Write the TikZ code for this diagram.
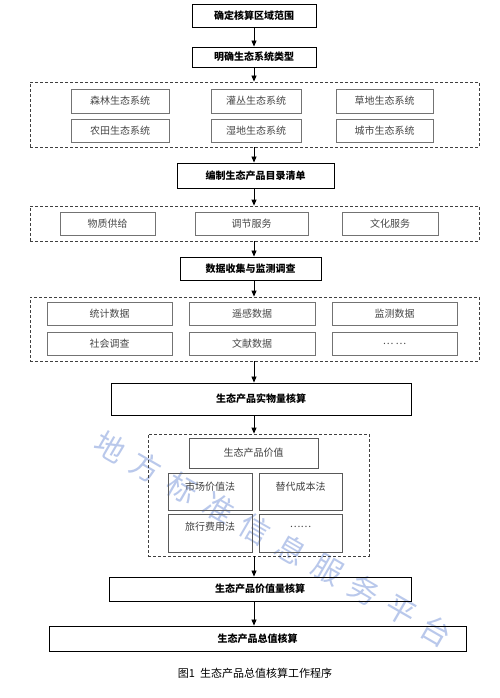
\documentclass[tikz,border=0pt]{standalone}
\usepackage{fontspec}
\setmainfont{Noto Sans CJK SC}
\usetikzlibrary{arrows.meta}
\definecolor{wm}{RGB}{185,200,235}
\tikzset{
  mainbox/.style={draw=black, line width=0.9pt, inner sep=0pt, font=\fontsize{10}{12}\selectfont\bfseries, text=black},
  grpbox/.style={draw=black!75, dashed, dash pattern=on 3pt off 2pt, line width=0.8pt, inner sep=0pt},
  subbox/.style={draw=black!55, line width=0.7pt, inner sep=0pt, font=\fontsize{10}{12}\selectfont, text=black!72},
  vbox/.style={draw=black!65, line width=0.7pt, inner sep=0pt},
  vtext/.style={font=\fontsize{10}{12}\selectfont, text=black!75, inner sep=0pt},
  arr/.style={line width=0.8pt, -{Triangle[length=6pt,width=5pt]}},
  wmtext/.style={font=\fontsize{30}{30}\selectfont, text=wm, rotate=-30, inner sep=0pt}
}
\begin{document}
\begin{tikzpicture}[x=1pt,y=-1pt]
\useasboundingbox[fill=white] (0,0) rectangle (500,698);
% watermark
\foreach \c [count=\i from 0] in {地,方,标,准,信,息,服,务,平,台}{
  \node[wmtext] (wm\i) at ({110+36.3*\i},{447+20.5*\i}) {\c};
}
\coordinate (ax) at (254,0);
% main boxes
\node[mainbox, minimum width=124pt, minimum height=23pt] (b1) at (254,15.5) {确定核算区域范围};
\node[mainbox, minimum width=124pt, minimum height=20pt] (b2) at (254,57) {明确生态系统类型};
% group 1
\node[grpbox, minimum width=449pt, minimum height=65pt] (g1) at (254.5,114.5) {};
\node[subbox, minimum width=98pt, minimum height=24pt] (e1) at (120,101) {森林生态系统};
\node[subbox, minimum width=90pt, minimum height=24pt] (e2) at (256,101) {灌丛生态系统};
\node[subbox, minimum width=97pt, minimum height=24pt] (e3) at (384.5,101) {草地生态系统};
\node[subbox, minimum width=98pt, minimum height=23pt] (e4) at (120,130.5) {农田生态系统};
\node[subbox, minimum width=90pt, minimum height=23pt] (e5) at (256,130.5) {湿地生态系统};
\node[subbox, minimum width=97pt, minimum height=23pt] (e6) at (384.5,130.5) {城市生态系统};
\node[mainbox, minimum width=157pt, minimum height=25pt] (b3) at (255.5,175.5) {编制生态产品目录清单};
% group 2
\node[grpbox, minimum width=449pt, minimum height=35pt] (g2) at (254.5,223.5) {};
\node[subbox, minimum width=95pt, minimum height=23pt] (p1) at (107.5,223.5) {物质供给};
\node[subbox, minimum width=113pt, minimum height=23pt] (p2) at (251.5,223.5) {调节服务};
\node[subbox, minimum width=96pt, minimum height=23pt] (p3) at (390,223.5) {文化服务};
\node[mainbox, minimum width=141pt, minimum height=23pt] (b4) at (250.5,268.5) {数据收集与监测调查};
% group 3
\node[grpbox, minimum width=449pt, minimum height=64pt] (g3) at (254.5,329) {};
\node[subbox, minimum width=125pt, minimum height=23pt] (d1) at (109.5,313.5) {统计数据};
\node[subbox, minimum width=126pt, minimum height=23pt] (d2) at (252,313.5) {遥感数据};
\node[subbox, minimum width=125pt, minimum height=23pt] (d3) at (394.5,313.5) {监测数据};
\node[subbox, minimum width=125pt, minimum height=23pt] (d4) at (109.5,343.5) {社会调查};
\node[subbox, minimum width=126pt, minimum height=23pt] (d5) at (252,343.5) {文献数据};
\node[subbox, minimum width=125pt, minimum height=23pt] (d6) at (394.5,343.5) {… …};
\node[mainbox, minimum width=300pt, minimum height=32pt] (b5) at (261,399) {生态产品实物量核算};
% group 4
\node[grpbox, minimum width=221pt, minimum height=122pt] (g4) at (258.5,495) {};
\node[vbox, minimum width=129pt, minimum height=30pt] (v0) at (253.5,453) {};
\node[vtext] (t0) at (v0.center) {生态产品价值};
\node[vbox, minimum width=84pt, minimum height=37pt] (v1) at (210,491.5) {};
\node[vbox, minimum width=83pt, minimum height=37pt] (v2) at (300.5,491.5) {};
\node[vbox, minimum width=84pt, minimum height=38pt] (v3) at (210,533) {};
\node[vbox, minimum width=83pt, minimum height=38pt] (v4) at (300.5,533) {};
\node[vtext] (t1) at ([yshift=5pt]v1.center) {市场价值法};
\node[vtext] (t2) at ([yshift=5pt]v2.center) {替代成本法};
\node[vtext] (t3) at ([yshift=6pt]v3.center) {旅行费用法};
\node[vtext] (t4) at ([yshift=6pt]v4.center) {……};
\node[mainbox, minimum width=302pt, minimum height=24pt] (b6) at (260,589) {生态产品价值量核算};
\node[mainbox, minimum width=417pt, minimum height=25pt] (b7) at (257.5,638.5) {生态产品总值核算};
\node[font=\fontsize{11}{13}\selectfont, inner sep=0pt] (cap) at (255,673) {图1\ \ 生态产品总值核算工作程序};
% arrows
\draw[arr] (b1.south -| ax) -- (b2.north -| ax);
\draw[arr] (b2.south -| ax) -- (g1.north -| ax);
\draw[arr] (g1.south -| ax) -- (b3.north -| ax);
\draw[arr] (b3.south -| ax) -- (g2.north -| ax);
\draw[arr] (g2.south -| ax) -- (b4.north -| ax);
\draw[arr] (b4.south -| ax) -- (g3.north -| ax);
\draw[arr] (g3.south -| ax) -- (b5.north -| ax);
\draw[arr] (b5.south -| ax) -- (g4.north -| ax);
\draw[arr] (g4.south -| ax) -- (b6.north -| ax);
\draw[arr] (b6.south -| ax) -- (b7.north -| ax);
\end{tikzpicture}
\end{document}
